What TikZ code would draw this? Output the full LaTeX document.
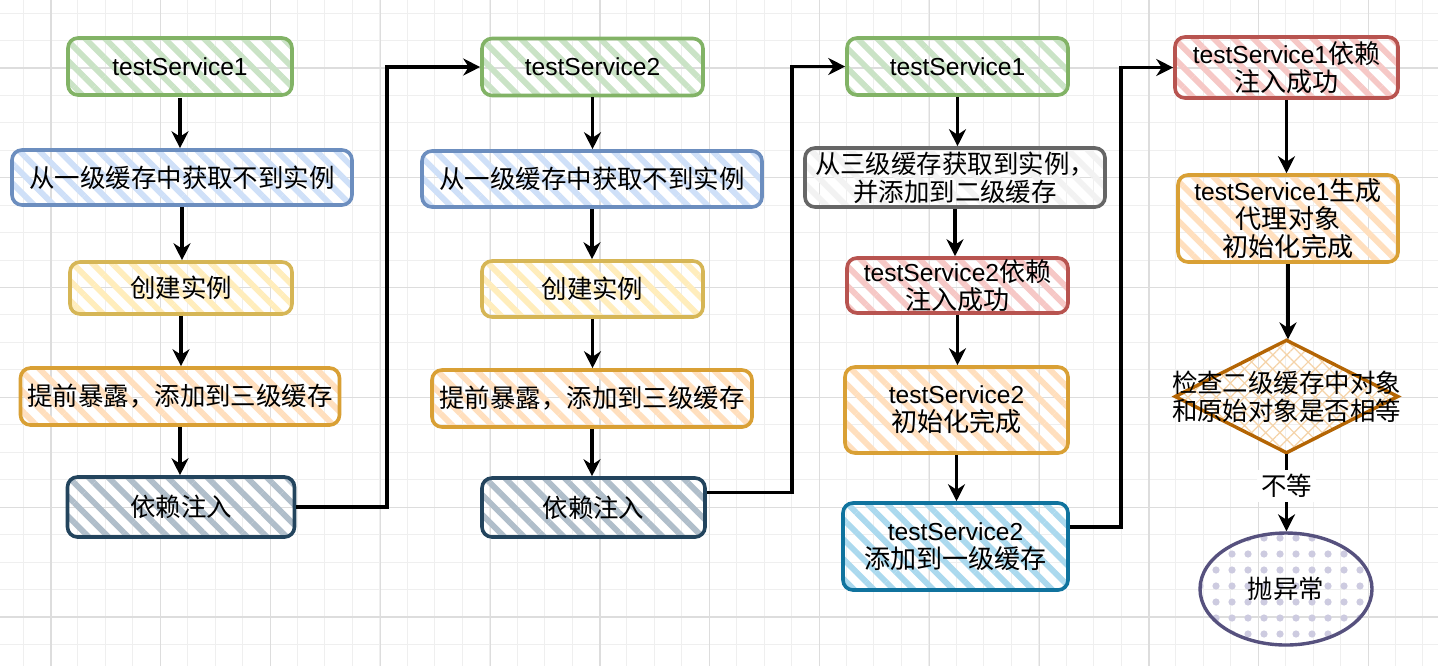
\documentclass[tikz,border=0pt]{standalone}
\usepackage{fontspec}
\setmainfont{Liberation Sans}
\newfontfamily\cjk[Scale=1.06]{Noto Sans CJK SC}
\usetikzlibrary{patterns.meta,shapes.geometric,arrows.meta,calc}
\definecolor{gmin}{HTML}{EFEFEF}
\definecolor{gmaj}{HTML}{DDDDDD}
\definecolor{grS}{HTML}{82B366}\definecolor{grF}{HTML}{CAE3C6}
\definecolor{blS}{HTML}{6C8EBF}\definecolor{blF}{HTML}{CFE0F8}
\definecolor{yeS}{HTML}{D6B656}\definecolor{yeF}{HTML}{FFEDBC}
\definecolor{orS}{HTML}{D9A035}\definecolor{orF}{HTML}{FFDFBE}
\definecolor{nvS}{HTML}{23445D}\definecolor{nvF}{HTML}{B0BECA}
\definecolor{rdS}{HTML}{B85450}\definecolor{rdF}{HTML}{F6C8C6}
\definecolor{gyS}{HTML}{666666}\definecolor{gyF}{HTML}{F2F2F2}
\definecolor{lbS}{HTML}{10739E}\definecolor{lbF}{HTML}{ABD9EE}
\definecolor{dmS}{HTML}{B46504}\definecolor{dmF}{HTML}{F5D3A8}
\definecolor{elS}{HTML}{56517E}\definecolor{elF}{HTML}{CDCBE0}
\tikzset{
  box/.style={draw, rounded corners=5pt, line width=1.8pt, align=center, inner sep=0pt,
    font=\fontsize{12.3}{14}\selectfont},
  hatch/.style={pattern={Lines[angle=-45,distance=7pt,line width=2.9pt]}, pattern color=#1},
  sgreen/.style={hatch=grF, draw=grS},
  sblue/.style={hatch=blF, draw=blS},
  syellow/.style={hatch=yeF, draw=yeS},
  sorange/.style={hatch=orF, draw=orS},
  snavy/.style={hatch=nvF, draw=nvS},
  sred/.style={hatch=rdF, draw=rdS},
  sgrey/.style={hatch=gyF, draw=gyS},
  slblue/.style={hatch=lbF, draw=lbS},
  arr/.style={-{Stealth[length=8.5pt,width=8.5pt]}, line width=1.6pt, black},
  gridminor/.style={gmin, line width=0.5pt},
  gridmajor/.style={gmaj, line width=0.6pt},
  lbl/.style={font=\fontsize{12}{14}\selectfont\cjk, align=center, inner sep=1pt},
  cj/.style={font=\fontsize{12}{14}\selectfont\cjk}
}
\begin{document}
\begin{tikzpicture}[x=0.5pt,y=-0.5pt]
\useasboundingbox (0,0) rectangle (1438,666);
\fill[white] (0,0) rectangle (1438,666);
% grid
\foreach \i in {0,...,51} {\draw[gridminor] ({23+27.45*\i},0) -- ({23+27.45*\i},666);}
\foreach \i in {0,...,24} {\draw[gridminor] (0,{13+27.45*\i}) -- (1438,{13+27.45*\i});}
\foreach \i in {0,...,12} {\draw[gridmajor] ({51+109.8*\i},0) -- ({51+109.8*\i},666);}
\foreach \i in {0,...,5} {\draw[gridmajor] (0,{68+109.8*\i}) -- (1438,{68+109.8*\i});}

% column 1
\node[box,sgreen,minimum width=112pt,minimum height=28.5pt] (a1) at (180,66.5) {testService1};
\node[box,sblue,minimum width=170pt,minimum height=27.5pt,cj] (a2) at (182,177.5) {从一级缓存中获取不到实例};
\node[box,syellow,minimum width=111pt,minimum height=26pt,cj] (a3) at (181,288) {创建实例};
\node[box,sorange,minimum width=159.5pt,minimum height=28.5pt,cj] (a4) at (180,396.5) {提前暴露，添加到三级缓存};
\node[box,snavy,minimum width=113.5pt,minimum height=30pt,cj] (a5) at (181,507) {依赖注入};

% column 2
\node[box,sgreen,minimum width=110.5pt,minimum height=28.5pt] (b1) at (592.5,67) {testService2};
\node[box,sblue,minimum width=170pt,minimum height=28pt,cj] (b2) at (592,179) {从一级缓存中获取不到实例};
\node[box,syellow,minimum width=110.5pt,minimum height=28pt,cj] (b3) at (592.5,289) {创建实例};
\node[box,sorange,minimum width=160pt,minimum height=28.5pt,cj] (b4) at (592,398.5) {提前暴露，添加到三级缓存};
\node[box,snavy,minimum width=111.5pt,minimum height=29.5pt,cj] (b5) at (593.5,507.5) {依赖注入};

% column 3
\node[box,sgreen,minimum width=110.5pt,minimum height=28.5pt] (c1) at (957.5,66.5) {testService1};
\node[box,sgrey,minimum width=150pt,minimum height=29.5pt,cj] (c2) at (955,177.5) {从三级缓存获取到实例，\\并添加到二级缓存};
\node[box,sred,minimum width=110.5pt,minimum height=27.5pt] (c3) at (957.5,285.5) {testService2{\cjk 依赖}\\{\cjk 注入成功}};
\node[box,sorange,minimum width=111.5pt,minimum height=43pt] (c4) at (956.5,410) {testService2\\{\cjk 初始化完成}};
\node[box,slblue,minimum width=112.5pt,minimum height=43.5pt] (c5) at (955.5,546.5) {testService2\\{\cjk 添加到一级缓存}};

% column 4
\node[box,sred,minimum width=111.5pt,minimum height=30.5pt] (d1) at (1286.5,67.5) {testService1{\cjk 依赖}\\{\cjk 注入成功}};
\node[box,sorange,minimum width=110pt,minimum height=43.5pt] (d2) at (1288,218.5) {testService1{\cjk 生成}\\{\cjk 代理对象}\\{\cjk 初始化完成}};
\node[diamond,draw=dmS,line width=1.7pt,pattern={Hatch[angle=45,distance=5pt,line width=0.6pt]},pattern color=dmF,
  minimum width=111.5pt,minimum height=56.5pt,inner sep=0pt] (d3) at (1286.5,396.5) {};
\node[lbl] (d3t) at (d3.center) {检查二级缓存中对象\\和原始对象是否相等};
\node[ellipse,draw=elS,line width=1.7pt,pattern={Dots[distance=8pt,radius=1.8pt]},pattern color=elF,
  minimum width=86pt,minimum height=56pt,inner sep=0pt] (d4) at (1286,589) {};
\node[lbl] (d4t) at (d4.center) {抛异常};

% vertical arrows
\foreach \p/\q in {a1/a2,a2/a3,a3/a4,a4/a5,b1/b2,b2/b3,b3/b4,b4/b5,c1/c2,c2/c3,c3/c4,c4/c5,d1/d2,d2/d3}
  {\draw[arr] (\p.south) -- (\p.south |- \q.north);}
\draw[arr] (d3.south) -- node[pos=0.42,fill=white,lbl,inner sep=2pt] (neq) {不等} (d3.south |- d4.north);

% loop connectors
\coordinate (k1) at (387,0);
\coordinate (k2) at (792,0);
\coordinate (k3) at (1121,0);
\draw[arr] (a5.east) -- (a5.east -| k1) -- (k1 |- b1.west) -- (b1.west);
\coordinate (b5o) at ([yshift=7.5pt]b5.east);
\draw[arr] (b5o) -- (b5o -| k2) -- (k2 |- c1.west) -- (c1.west);
\coordinate (c5o) at ([yshift=9.75pt]c5.east);
\draw[arr] (c5o) -- (c5o -| k3) -- (k3 |- d1.west) -- (d1.west);
\end{tikzpicture}
\end{document}
